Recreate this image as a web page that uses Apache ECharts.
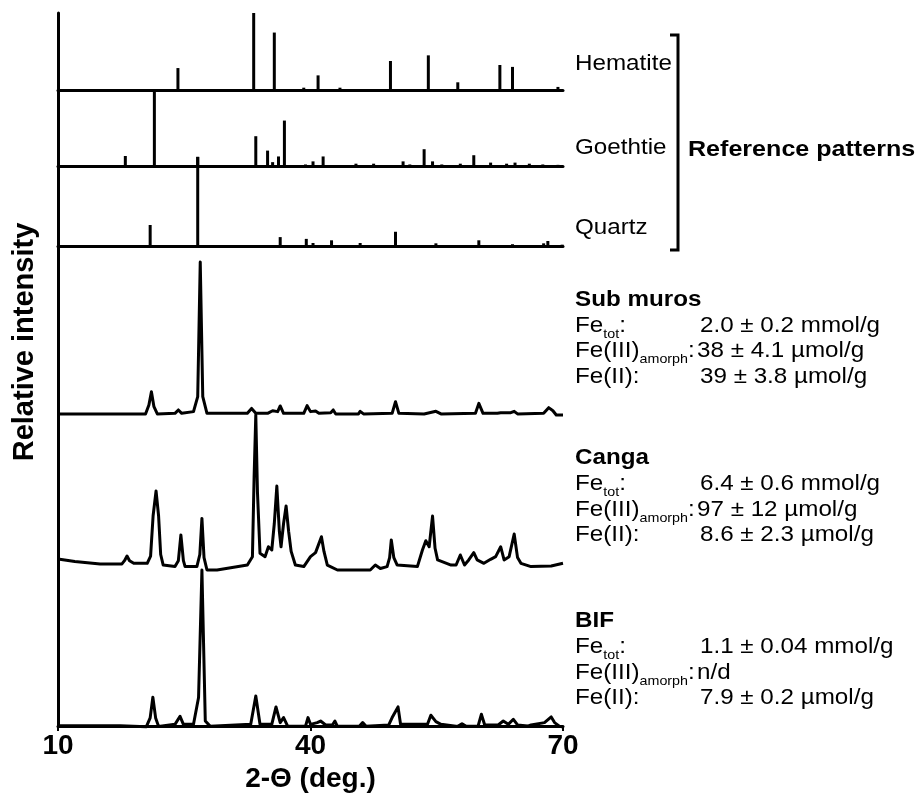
<!DOCTYPE html>
<html>
<head>
<meta charset="utf-8">
<script src="https://cdn.jsdelivr.net/npm/echarts@6/dist/echarts.min.js"></script>
<style>
html, body { margin: 0; padding: 0; background: #fff; }
#chart { width: 916px; height: 798px; }
</style>
</head>
<body>
<div id="chart"></div>
<script>
// x range and tick labels (2-theta, degrees)
var xTicks = [10, 40, 70];

// reference stick patterns [2theta, relative intensity %]
var hematite = [[24.25, 28.5], [33.25, 100], [35.7, 74.6], [39.2, 3], [40.9, 19], [43.5, 3],
    [49.5, 37.7], [54.0, 45], [57.5, 10], [62.5, 32.5], [64.0, 30], [69.4, 4]];
var goethite = [[18.0, 13], [21.45, 100], [26.6, 12], [33.5, 38.7], [34.9, 20], [35.5, 5],
    [36.2, 12.4], [36.9, 59], [39.4, 2], [40.3, 6], [41.5, 12.4], [45.4, 3], [47.5, 3],
    [51.0, 6], [51.8, 2], [53.5, 21.8], [54.5, 6], [55.6, 2], [57.8, 3], [59.4, 14],
    [61.4, 4.4], [63.3, 3], [64.3, 4.4], [66.0, 3], [67.6, 2], [69.4, 1.5]];
var quartz = [[20.95, 23.6], [26.6, 100], [36.4, 10], [39.5, 8], [40.3, 3.4], [42.5, 6.4],
    [45.9, 3.4], [50.1, 16], [54.9, 3], [60.0, 6.4], [64.0, 2], [67.7, 3], [68.2, 5.6], [69.9, 1.5]];

// measured diffractograms [2theta, relative intensity %]
var subMuros = [[10.2, 0.7], [20.4, 0.7], [20.8, 6.5], [21.1, 15.2], [21.4, 5.4], [21.8, 0.7],
    [23.9, 1.1], [24.3, 3.3], [24.7, 1.1], [26.1, 2.2], [26.6, 12], [26.9, 100], [27.2, 12],
    [27.7, 1.1], [32.5, 1.1], [33.0, 4.3], [33.5, 1.1], [34.9, 1.1], [35.5, 2.8], [36.1, 2.2],
    [36.4, 5.9], [36.8, 1.1], [39.2, 1.1], [39.6, 6.1], [40.0, 2.2], [40.6, 2.6], [41.0, 1.1],
    [42.4, 1.5], [42.7, 3.3], [43.0, 0.7], [45.7, 0.7], [45.9, 2.4], [46.3, 0.7], [49.7, 1.1],
    [50.1, 8.7], [50.5, 1.1], [53.5, 0.7], [54.9, 2.4], [55.5, 0.7], [59.6, 1.1], [60.0, 7.6],
    [60.5, 1.1], [62.2, 1.1], [62.6, 1.5], [63.8, 1.5], [64.2, 2.4], [64.6, 0.7], [67.7, 1.1],
    [68.3, 4.8], [68.8, 2.8], [69.2, 0], [70, 0]];
var canga = [[10.2, 6.9], [12.0, 5.5], [15.0, 3.9], [17.6, 3.9], [17.9, 6], [18.2, 9.0], [18.5, 6],
    [19.0, 4.3], [20.6, 4.3], [21.0, 9], [21.3, 35], [21.65, 51], [21.95, 35], [22.2, 10], [22.5, 3.2],
    [23.9, 2.2], [24.3, 6], [24.6, 22.6], [24.9, 6], [25.1, 2.2], [26.5, 2.2], [26.85, 10], [27.1, 33.3],
    [27.35, 8], [27.7, 0], [28.9, 0], [32.5, 3.2], [33.1, 8.6], [33.3, 60], [33.5, 100], [33.7, 50],
    [34.0, 10.8], [34.6, 8.6], [35.0, 15], [35.4, 12.9], [35.7, 30], [36.0, 54.2], [36.3, 25],
    [36.5, 15], [36.8, 30], [37.1, 41.3], [37.4, 25], [37.7, 12], [38.2, 3.2], [39.2, 2.2],
    [40.0, 8.6], [40.6, 11.2], [41.3, 21.5], [41.6, 12], [42.0, 3.2], [43.2, 0], [47.1, 0],
    [47.7, 3.2], [48.3, 1], [49.1, 2.2], [49.4, 8], [49.6, 19.4], [49.9, 8], [50.3, 3.2], [52.7, 2.2],
    [53.3, 12.9], [53.7, 18.9], [54.1, 15], [54.5, 34.8], [54.8, 14], [55.1, 6.5], [56.7, 3.2],
    [57.3, 3.2], [57.8, 9.7], [58.3, 3.2], [58.8, 6.5], [59.4, 11.2], [59.8, 6.5], [60.6, 4.3],
    [61.4, 6.9], [62.0, 8.6], [62.6, 15], [63.0, 6.5], [63.6, 8.6], [64.2, 23.2], [64.6, 8],
    [65.0, 4.3], [66.2, 2.2], [68.6, 2.6], [70, 4.3]];
var bif = [[10.2, 0.8], [17.4, 0.8], [17.5, 0], [20.5, 0.2], [20.95, 5.8], [21.27, 19], [21.6, 5.8],
    [21.95, 0.4], [23.9, 1.7], [24.5, 6.8], [24.9, 1.7], [26.1, 1.7], [26.7, 18.8], [27.1, 100],
    [27.5, 3.8], [28.1, 0.4], [32.9, 1.7], [33.5, 19.7], [34.0, 1.7], [35.4, 1.7], [35.9, 12.8],
    [36.4, 2.8], [36.8, 6], [37.3, 0.4], [39.4, 0.4], [39.7, 6], [40.0, 1.7], [40.8, 2.8], [41.2, 3.8],
    [41.8, 1.3], [42.6, 1.3], [42.9, 3.8], [43.2, 0.4], [45.8, 0.4], [46.2, 2.8], [46.6, 0.4],
    [49.3, 1.3], [49.7, 6], [50.4, 12.8], [50.7, 1.7], [53.9, 1.7], [54.3, 7.5], [54.9, 3.4],
    [55.5, 1.7], [57.5, 0.4], [58.0, 2.1], [58.5, 0.4], [59.9, 0.4], [60.3, 8.1], [60.7, 1.3],
    [62.3, 1.3], [62.9, 3.8], [63.5, 1.7], [64.1, 4.9], [64.6, 1.3], [65.8, 0.6], [66.2, 1.3],
    [67.8, 2.8], [68.6, 6.4], [69.0, 2.8], [69.6, 0.4], [70, 0]];

// texts
var refNames = ['Hematite', 'Goethtie', 'Quartz'];
var sampleNames = ['Sub muros', 'Canga', 'BIF'];
var feTot = ['2.0 ± 0.2 mmol/g', '6.4 ± 0.6 mmol/g', '1.1 ± 0.04 mmol/g'];
var feAmorph = ['38 ± 4.1 µmol/g', '97 ± 12 µmol/g', 'n/d'];
var feII = ['39 ± 3.8 µmol/g', '8.6 ± 2.3 µmol/g', '7.9 ± 0.2 µmol/g'];

var myChart = echarts.init(document.getElementById('chart'));

var FONT = '"Liberation Sans", Arial, sans-serif';
var LEFT = 58, RIGHT = 353;
var SX = 1.1; // text in the figure is a bit wider than plain Arial

// each pattern gets its own strip (top, height in px)
var panels = [
    { data: hematite, kind: 'stick', top: 13, height: 77 },
    { data: goethite, kind: 'stick', top: 89, height: 77 },
    { data: quartz, kind: 'stick', top: 157, height: 89 },
    { data: subMuros, kind: 'trace', top: 262, height: 153 },
    { data: canga, kind: 'trace', top: 415, height: 155 },
    { data: bif, kind: 'trace', top: 570, height: 157 }
];

var grid = [], xAxis = [], yAxis = [], series = [];

panels.forEach(function (p, i) {
    grid.push({ left: LEFT, right: RIGHT, top: p.top, height: p.height });
    xAxis.push({
        gridIndex: i, type: 'value', min: 10, max: 70,
        axisLine: { show: p.kind === 'stick', lineStyle: { color: '#000', width: 3 } },
        axisTick: { show: false }, axisLabel: { show: false }, splitLine: { show: false }
    });
    yAxis.push({
        gridIndex: i, type: 'value', min: 0, max: 100, show: false
    });
    if (p.kind === 'stick') {
        series.push({
            type: 'bar', xAxisIndex: i, yAxisIndex: i, data: p.data,
            barWidth: 3, itemStyle: { color: '#000' }, silent: true
        });
    } else {
        series.push({
            type: 'line', xAxisIndex: i, yAxisIndex: i, data: p.data,
            symbol: 'none', clip: false, silent: true,
            lineStyle: { color: '#000', width: 3, join: 'round' }
        });
    }
});

// frame: left axis line and the 2-theta axis
var f = panels.length;
grid.push({ left: LEFT, right: RIGHT, top: 13, bottom: 69 });
xAxis.push({
    gridIndex: f, type: 'value', min: 10, max: 70,
    name: '2-Θ (deg.)', nameLocation: 'middle', nameGap: 36,
    nameTextStyle: { color: '#000', fontSize: 28, fontWeight: 'bold', fontFamily: FONT },
    axisLine: { lineStyle: { color: '#000', width: 3 } },
    axisTick: { customValues: xTicks, length: 5, lineStyle: { color: '#000', width: 2 } },
    axisLabel: { customValues: xTicks, margin: 6, color: '#000', fontSize: 28, fontWeight: 'bold', fontFamily: FONT },
    splitLine: { show: false }
});
yAxis.push({
    gridIndex: f, type: 'value', min: 0, max: 1,
    axisLine: { show: true, lineStyle: { color: '#000', width: 3 } },
    axisTick: { show: false }, axisLabel: { show: false }, splitLine: { show: false }
});

var plain = { fill: '#000', fontSize: 22, fontFamily: FONT, align: 'left', verticalAlign: 'middle' };
function txt(x, y, s, extra, sx) {
    var st = Object.assign({}, plain, { text: s }, extra || {});
    return { type: 'text', x: x, y: y, scaleX: sx || SX, style: st, silent: true };
}
var rich = {
    n: { fontSize: 22, lineHeight: 30, fontFamily: FONT, fill: '#000' },
    s: { fontSize: 13, verticalAlign: 'bottom', fontFamily: FONT, fill: '#000' }
};

var graphic = [];
graphic.push({
    type: 'text', x: 25, y: 342, rotation: Math.PI / 2, silent: true,
    style: { text: 'Relative intensity', fill: '#000', fontSize: 29, fontWeight: 'bold', fontFamily: FONT, align: 'center', verticalAlign: 'middle' }
});
var refY = [64, 147.5, 227.5];
refNames.forEach(function (n, i) { graphic.push(txt(575, refY[i], n)); });
graphic.push({
    type: 'polyline', silent: true,
    shape: { points: [[670, 35], [678, 35], [678, 250], [670, 250]] },
    style: { stroke: '#000', lineWidth: 3, fill: null }
});
graphic.push(txt(688, 149.5, 'Reference patterns', { fontWeight: 'bold' }, 1.14));

var blockY = [299.5, 458, 621];
sampleNames.forEach(function (n, i) {
    var y = blockY[i];
    graphic.push(txt(575, y, n, { fontWeight: 'bold' }));
    graphic.push(txt(575, y + 26, '{n|Fe}{s|tot}{n|:}', { rich: rich }));
    graphic.push(txt(700, y + 26, feTot[i]));
    graphic.push(txt(575, y + 51.5, '{n|Fe(III)}{s|amorph}{n|:}', { rich: rich }));
    graphic.push(txt(697, y + 51.5, feAmorph[i]));
    graphic.push(txt(575, y + 77, 'Fe(II):'));
    graphic.push(txt(700, y + 77, feII[i]));
});

myChart.setOption({
    animation: false,
    backgroundColor: '#fff',
    grid: grid,
    xAxis: xAxis,
    yAxis: yAxis,
    series: series,
    graphic: graphic
});
</script>
</body>
</html>
